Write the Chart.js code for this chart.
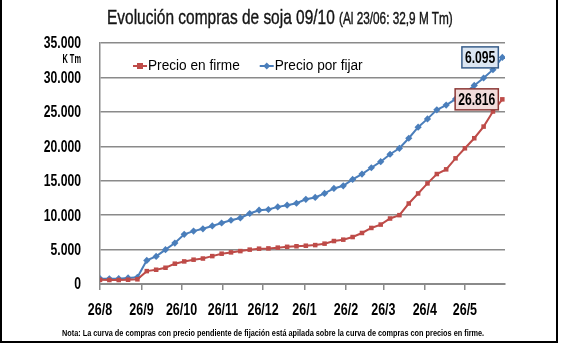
<!DOCTYPE html>
<html lang="es">
<head>
<meta charset="utf-8">
<title>Evolución compras de soja 09/10</title>
<script src="https://cdn.jsdelivr.net/npm/chart.js@4/dist/chart.umd.min.js"></script>
<style>
  body { margin: 0; background: #fff; }
  #wrap { position: relative; width: 562px; height: 344px; overflow: hidden; }
  #frame {
    position: absolute; left: 0; top: 0; width: 554px; height: 341px;
    border-left: 2px solid #000; border-right: 2px solid #000; border-bottom: 2px solid #000;
    pointer-events: none;
  }
  canvas { position: absolute; left: 0; top: 0; }
  #title {
    position: absolute; left: 107px; top: 4px; transform-origin: 0 0;
    font-family: 'Liberation Sans', Arial, sans-serif;
    font-size: 21px; line-height: 26px; color: #141414; white-space: nowrap;
    -webkit-text-stroke: 0.4px #141414;
  }
  #title small { font-size: 16px; }
  #note {
    position: absolute; left: 62px; top: 328px; transform-origin: 0 0;
    font-family: 'Liberation Sans', Arial, sans-serif;
    font-size: 9px; font-weight: bold; color: #000; white-space: nowrap;
  }
</style>
</head>
<body>
<div id="wrap">
  <canvas id="chart" width="562" height="344"></canvas>
  <div id="title">Evolución compras de soja 09/10 <small>(Al 23/06: 32,9 M Tm)</small></div>
  <div id="note">Nota: La curva de compras con precio pendiente de fijación está apilada sobre la curva de compras con precios en firme.</div>
  <div id="frame"></div>
</div>
<script>
// weekly purchase dates, campaign 2009/10 (dd/mm)
const weeks = [
  '26/08', '02/09', '09/09', '16/09', '23/09', '30/09', '07/10', '14/10', '21/10', '28/10',
  '04/11', '11/11', '18/11', '25/11', '02/12', '09/12', '16/12', '23/12', '30/12', '06/01',
  '13/01', '20/01', '27/01', '03/02', '10/02', '17/02', '24/02', '03/03', '10/03', '17/03',
  '24/03', '31/03', '07/04', '14/04', '21/04', '28/04', '05/05', '12/05', '19/05', '26/05',
  '02/06', '09/06', '16/06', '23/06'
];

// accumulated purchases with firm price (K Tm)
const precioFirme = [
  600, 580, 580, 620, 680, 1870, 2070, 2360, 2950, 3280,
  3530, 3700, 4050, 4400, 4590, 4780, 4990, 5130, 5170, 5280,
  5400, 5480, 5560, 5650, 5860, 6240, 6440, 6820, 7410, 8140,
  8630, 9510, 10000, 11690, 13150, 14610, 15970, 16650, 18250, 19710,
  21170, 22860, 25050, 26816
];

// purchases still to be priced (K Tm), stacked on top of the firm ones
const precioPorFijar = [
  180, 180, 190, 260, 300, 1560, 1940, 2630, 3000, 3940,
  4150, 4320, 4380, 4460, 4670, 4810, 5250, 5590, 5650, 5920,
  6050, 6250, 6740, 6920, 7290, 7640, 7820, 8370, 8560, 8740,
  9130, 9330, 9710, 9480, 9620, 9370, 9330, 9330, 8610, 8020,
  7670, 7060, 6080, 6095
];

const monthLabels = ['26/8', '26/9', '26/10', '26/11', '26/12', '26/1', '26/2', '26/3', '26/4', '26/5'];

const FONT = "'Liberation Sans', Arial, sans-serif";
const RED = '#BE4B48';
const BLUE = '#4A7EBB';
const GRID = '#8A8A8A';

// squeeze the header and footnote to their narrow widths
function fitWidth(el, width) {
  el.style.transform = 'scaleX(' + (width / el.offsetWidth) + ')';
}
fitWidth(document.getElementById('title'), 346);
fitWidth(document.getElementById('note'), 422);

// days since 26/08/2009
function dayOf(str) {
  const [d, m] = str.split('/').map(Number);
  const year = m >= 8 ? 2009 : 2010;
  return (Date.UTC(year, m - 1, d) - Date.UTC(2009, 7, 26)) / 86400000;
}

const weekDays = weeks.map(dayOf);
const monthDays = monthLabels.map(dayOf);

const fmt = v => String(Math.round(v)).replace(/\B(?=(\d{3})+(?!\d))/g, '.');

// condensed text: horizontal squeeze around the anchor point
function narrowText(ctx, text, x, y, font, align, sx) {
  ctx.save();
  ctx.font = font;
  ctx.textAlign = align;
  ctx.textBaseline = 'middle';
  ctx.translate(x, y);
  ctx.scale(sx, 1);
  ctx.fillText(text, 0, 0);
  ctx.restore();
}

function narrowWidth(ctx, text, font, sx) {
  ctx.save();
  ctx.font = font;
  const w = ctx.measureText(text).width * sx;
  ctx.restore();
  return w;
}

function drawMarker(ctx, style, x, y, r, color) {
  ctx.fillStyle = color;
  ctx.beginPath();
  if (style === 'rect') {
    ctx.rect(x - r, y - r, r * 2, r * 2);
  } else {
    ctx.moveTo(x, y - r);
    ctx.lineTo(x + r, y);
    ctx.lineTo(x, y + r);
    ctx.lineTo(x - r, y);
    ctx.closePath();
  }
  ctx.fill();
}

// tick labels, unit, legend inside the plot and end-of-series value boxes
const overlay = {
  id: 'overlay',
  afterDatasetsDraw(chart) {
    const { ctx, chartArea, scales } = chart;
    const tickFont = 'bold 16px ' + FONT;
    ctx.save();
    ctx.fillStyle = '#000';

    scales.y.ticks.forEach(t => {
      narrowText(ctx, fmt(t.value), chartArea.left - 19, scales.y.getPixelForValue(t.value) + 1, tickFont, 'right', 0.76);
    });
    scales.x.ticks.forEach(t => {
      const label = monthLabels[monthDays.indexOf(t.value)];
      narrowText(ctx, label, scales.x.getPixelForValue(t.value), chartArea.bottom + 27, tickFont, 'center', 0.78);
    });

    narrowText(ctx, 'K Tm', chartArea.left - 19, scales.y.getPixelForValue(32600), 'bold 12px ' + FONT, 'right', 0.62);

    // legend
    const legendFont = '15.5px ' + FONT;
    let lx = chartArea.left + 33;
    const ly = chartArea.top + 23;
    chart.data.datasets.forEach(ds => {
      ctx.strokeStyle = ds.borderColor;
      ctx.lineWidth = 2;
      ctx.beginPath();
      ctx.moveTo(lx, ly);
      ctx.lineTo(lx + 14, ly);
      ctx.stroke();
      drawMarker(ctx, ds.pointStyle, lx + 7, ly, ds.pointStyle === 'rect' ? 3 : 3.5, ds.borderColor);
      ctx.fillStyle = '#000';
      narrowText(ctx, ds.label, lx + 15, ly, legendFont, 'left', 0.88);
      lx += 15 + narrowWidth(ctx, ds.label, legendFont, 0.88) + 20;
    });

    // value boxes at the last point
    const boxFont = 'bold 16px ' + FONT;
    chart.data.datasets.forEach((ds, i) => {
      const meta = chart.getDatasetMeta(i);
      const last = meta.data[meta.data.length - 1];
      const text = fmt(ds.data[ds.data.length - 1].y);
      const w = narrowWidth(ctx, text, boxFont, 0.76) + 6;
      const h = 21;
      const right = last.x - 4;
      ctx.fillStyle = ds.labelFill;
      ctx.strokeStyle = ds.labelBorder;
      ctx.lineWidth = 1.5;
      ctx.fillRect(right - w, last.y - h / 2, w, h);
      ctx.strokeRect(right - w, last.y - h / 2, w, h);
      ctx.fillStyle = '#000';
      narrowText(ctx, text, right - w / 2, last.y + 1, boxFont, 'center', 0.76);
    });

    ctx.restore();
  }
};

Chart.defaults.font.family = FONT;
Chart.defaults.color = '#000';

new Chart(document.getElementById('chart'), {
  type: 'line',
  data: {
    datasets: [
      {
        label: 'Precio en firme',
        data: weekDays.map((x, i) => ({ x, y: precioFirme[i] })),
        borderColor: RED,
        backgroundColor: RED,
        borderWidth: 2,
        pointStyle: 'rect',
        pointRadius: 3.2,
        pointBorderWidth: 0,
        labelFill: '#F2DCDB',
        labelBorder: '#8C3836'
      },
      {
        label: 'Precio por fijar',
        data: weekDays.map((x, i) => ({ x, y: precioPorFijar[i] })),
        borderColor: BLUE,
        backgroundColor: BLUE,
        borderWidth: 2,
        pointStyle: 'rectRot',
        pointRadius: 3.6,
        pointBorderWidth: 0,
        labelFill: '#DCE6F2',
        labelBorder: '#385D8A'
      }
    ]
  },
  options: {
    responsive: false,
    animation: false,
    layout: { padding: { top: 43, right: 57, bottom: 30, left: 0 } },
    plugins: {
      legend: { display: false },
      tooltip: { enabled: false }
    },
    scales: {
      x: {
        type: 'linear',
        min: 0,
        max: 303,
        afterBuildTicks: scale => { scale.ticks = monthDays.map(v => ({ value: v })); },
        afterFit: scale => { scale.height = 30; },
        ticks: { display: false, autoSkip: false },
        grid: { drawOnChartArea: false, tickLength: 6, color: GRID, lineWidth: 1.5 },
        border: { color: GRID, width: 2 }
      },
      y: {
        stacked: true,
        min: 0,
        max: 35000,
        afterFit: scale => { scale.width = 100; },
        ticks: { display: false, stepSize: 5000 },
        grid: { color: GRID, lineWidth: 1.5, drawTicks: false },
        border: { color: GRID, width: 1.5 }
      }
    }
  },
  plugins: [overlay]
});
</script>
</body>
</html>
